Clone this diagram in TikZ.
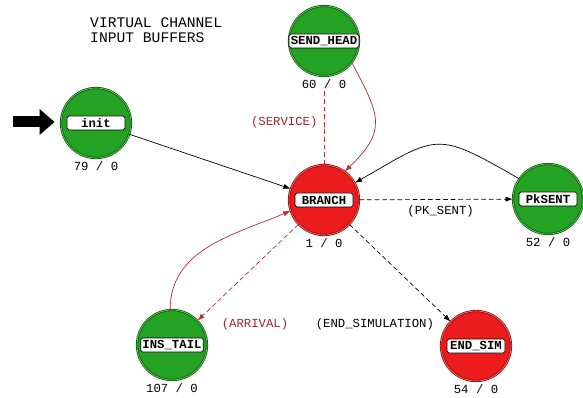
\documentclass[tikz,border=0pt]{standalone}
\usepackage{fontspec}
\setmonofont{Liberation Mono}
\usetikzlibrary{positioning,arrows.meta}

\definecolor{stategreen}{RGB}{36,162,36}
\definecolor{borderg}{RGB}{10,95,10}
\definecolor{ringg}{RGB}{120,205,120}
\definecolor{statered}{RGB}{236,28,28}
\definecolor{borderr}{RGB}{150,10,10}
\definecolor{ringr}{RGB}{250,130,130}
\definecolor{edgered}{RGB}{185,45,45}
\definecolor{textred}{RGB}{160,40,40}

\tikzset{
    >={Latex[length=6pt,width=4.5pt]}, % small filled arrow heads
    greenstate/.style={circle, minimum size=2.1cm, inner sep=0pt,
        fill=stategreen, draw=borderg, line width=0.7pt,
        double=ringg, double distance=0.5pt}, % green state
    redstate/.style={greenstate, fill=statered, draw=borderr,
        double=ringr}, % red (forced) state
    tag/.style={draw=black, fill=white, rounded corners=1.5pt, line width=0.6pt,
        minimum width=1.74cm, minimum height=0.42cm, inner sep=1.5pt,
        font=\ttfamily\bfseries\fontsize{10.5}{12}\selectfont}, % state name box
    count/.style={inner sep=1pt, font=\ttfamily\fontsize{10.5}{12}\selectfont},
    trlabel/.style={inner sep=1pt, font=\ttfamily\fontsize{10.5}{12}\selectfont},
    title/.style={inner sep=0pt, align=left, font=\ttfamily\fontsize{12.5}{12.8}\selectfont},
    blackline/.style={draw=black, line width=0.6pt},
    blackdash/.style={blackline, dash pattern=on 4pt off 2.5pt},
    redline/.style={draw=edgered, line width=0.6pt},
    reddash/.style={redline, dash pattern=on 4pt off 2.5pt},
    initarrow/.style={line width=0.33cm, -{Triangle[length=0.45cm,width=0.75cm]},
        shorten >=0.18cm},
}

\begin{document}
\begin{tikzpicture}[x=0.03cm, y=0.03cm]
  \useasboundingbox (0,0) rectangle (583,-398);

  \node[title, anchor=north west] (title) at (90,-17) {VIRTUAL CHANNEL\\INPUT BUFFERS};

  % states
  \node[greenstate] (init)   at (96,-123)  {};
  \node[greenstate] (send)   at (324,-41)  {};
  \node[redstate]   (branch) at (324,-200) {};
  \node[greenstate] (pksent) at (548,-199) {};
  \node[greenstate] (ins)    at (172,-345) {};
  \node[redstate]   (endsim) at (476,-346) {};

  % names
  \node[tag] (init tag)   at (init)   {init};
  \node[tag] (send tag)   at (send)   {SEND\_HEAD};
  \node[tag] (branch tag) at (branch) {BRANCH};
  \node[tag] (pksent tag) at (pksent) {PkSENT};
  \node[tag] (ins tag)    at (ins)    {INS\_TAIL};
  \node[tag] (endsim tag) at (endsim) {END\_SIM};

  % counts
  \node[count, below=0.05cm of init]   (init cnt)   {79 / 0};
  \node[count, below=0.05cm of send]   (send cnt)   {60 / 0};
  \node[count, below=0.05cm of branch] (branch cnt) {1 / 0};
  \node[count, below=0.05cm of pksent] (pksent cnt) {52 / 0};
  \node[count, below=0.05cm of ins]    (ins cnt)    {107 / 0};
  \node[count, below=0.05cm of endsim] (endsim cnt) {54 / 0};

  % initial marker
  \coordinate (start) at (13,-122);
  \draw[initarrow] (start) -- (start -| init.west);

  \path[->]
    (init)      edge[blackline] (branch)
    (send.-38)  edge[redline, out=-62, in=44, looseness=1.4] (branch.54)
    (branch)    edge[reddash, -] node[trlabel, text=textred, pos=0.57, left=0.15cm] {(SERVICE)} (send cnt)
    (branch)    edge[blackdash] node[trlabel, pos=0.53, below=0.15cm] {(PK\_SENT)} (pksent)
    (pksent.145) edge[blackline, out=150, in=30, looseness=1.5] (branch.29)
    (branch)    edge[blackdash] node[trlabel, at end, anchor=east, xshift=-0.45cm, yshift=-0.1cm] {(END\_SIMULATION)} (endsim)
    (ins.93)    edge[redline, out=90, in=203] (branch.198)
    (branch)    edge[reddash] node[trlabel, text=textred, at end, anchor=west, xshift=0.68cm, yshift=-0.1cm] {(ARRIVAL)} (ins);
\end{tikzpicture}
\end{document}
